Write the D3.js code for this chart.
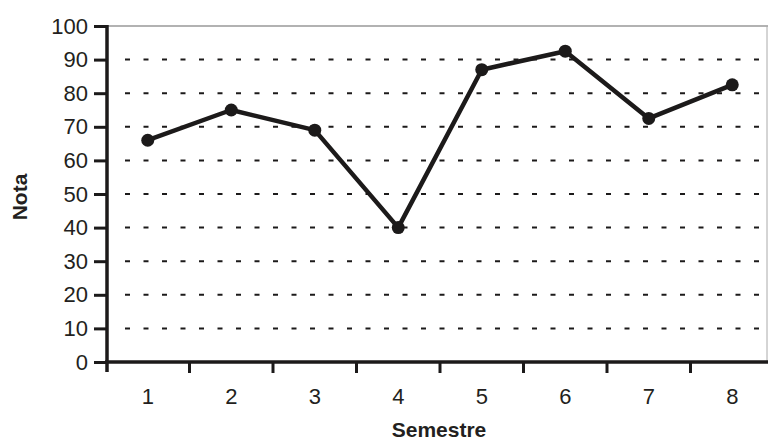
<!DOCTYPE html>
<html><head><meta charset="utf-8">
<script src="https://cdn.jsdelivr.net/npm/d3@7"></script>
<style>body{margin:0;background:#fff}svg{display:block}</style>
</head><body>
<svg id="c" width="768" height="440"></svg>
<script>
const semestres = ["1","2","3","4","5","6","7","8"];
const notas = [66, 75, 69, 40, 87, 92.5, 72.5, 82.5];
const yTicks = [0,10,20,30,40,50,60,70,80,90,100];

const svg = d3.select("#c");
const mLeft = 107, mRight = 774, mTop = 26, mBottom = 362;
const x = d3.scaleBand().domain(semestres).range([mLeft-1, mRight]);
const y = d3.scaleLinear().domain([0,100]).range([mBottom, mTop]);
const ink = "#1c1a1a";
const font = "Arial, 'Liberation Sans', sans-serif";

// grid
svg.append("g").selectAll("line").data(yTicks.filter(d=>d>0 && d<100)).join("line")
  .attr("x1", mLeft+18).attr("x2", 768).attr("y1", d=>y(d)).attr("y2", d=>y(d))
  .attr("stroke", ink).attr("stroke-width", 2).attr("stroke-dasharray", "5,13.5");
// top gray line & right border
svg.append("line").attr("x1", mLeft).attr("x2", 768).attr("y1", y(100)).attr("y2", y(100))
  .attr("stroke", "#999").attr("stroke-width", 1.5);
svg.append("line").attr("x1", 767).attr("x2", 767).attr("y1", y(100)).attr("y2", mBottom)
  .attr("stroke", "#aaa").attr("stroke-width", 1);

// y axis
const ya = svg.append("g").attr("transform", `translate(${mLeft},0)`)
  .call(d3.axisLeft(y).tickValues(yTicks).tickSize(13).tickPadding(6));
ya.select(".domain").remove();
ya.selectAll(".tick line").attr("stroke", ink).attr("stroke-width", 3);
ya.selectAll(".tick text").attr("font-family", font).attr("font-size", 22).attr("fill", "#231f20");
svg.append("line").attr("x1", mLeft).attr("x2", mLeft).attr("y1", mTop-1).attr("y2", mBottom+10)
  .attr("stroke", ink).attr("stroke-width", 3.5);

// x axis
const xa = svg.append("g").attr("transform", `translate(0,${mBottom})`)
  .call(d3.axisBottom(x).tickSize(0).tickPadding(26));
xa.select(".domain").remove();
xa.selectAll(".tick text").attr("font-family", font).attr("font-size", 22).attr("fill", "#231f20");
svg.append("g").selectAll("line").data(semestres.slice(1)).join("line")
  .attr("x1", d=>x(d)).attr("x2", d=>x(d)).attr("y1", mBottom).attr("y2", mBottom+11)
  .attr("stroke", ink).attr("stroke-width", 3);
svg.append("line").attr("x1", mLeft-2).attr("x2", 768).attr("y1", mBottom).attr("y2", mBottom)
  .attr("stroke", ink).attr("stroke-width", 3.5);

// line
const cx = d => x(d) + x.bandwidth()/2;
svg.append("path").datum(notas)
  .attr("d", d3.line().x((d,i)=>cx(semestres[i])).y(d=>y(d)))
  .attr("fill", "none").attr("stroke", ink).attr("stroke-width", 4.5).attr("stroke-linejoin", "round");
svg.append("g").selectAll("circle").data(notas).join("circle")
  .attr("cx", (d,i)=>cx(semestres[i])).attr("cy", d=>y(d)).attr("r", 6.5).attr("fill", ink);

// titles
svg.append("text").attr("x", 439).attr("y", 437).attr("text-anchor", "middle")
  .attr("font-family", font).attr("font-weight", "bold").attr("font-size", 21).attr("fill", "#231f20").text("Semestre");
svg.append("text").attr("transform", "translate(27,197) rotate(-90)").attr("text-anchor", "middle")
  .attr("font-family", font).attr("font-weight", "bold").attr("font-size", 21).attr("fill", "#231f20").text("Nota");
</script>
</body></html>
